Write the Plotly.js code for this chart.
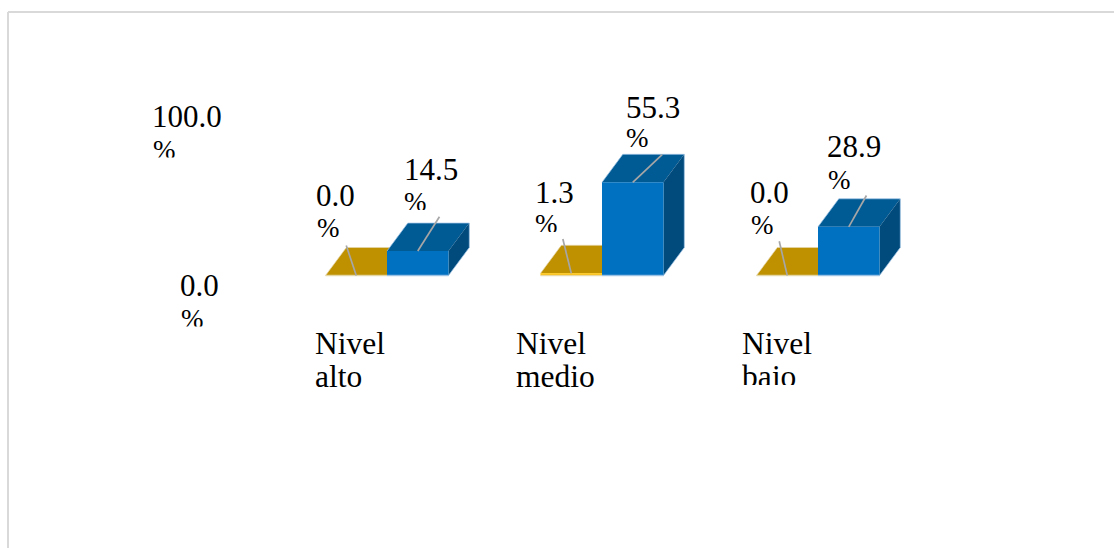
<!DOCTYPE html>
<html>
<head>
<meta charset="utf-8">
<script src="https://cdn.plot.ly/plotly-3.0.1.min.js"></script>
<style>html,body{margin:0;padding:0;background:#fff;overflow:hidden}</style>
</head>
<body>
<div id="chart" style="width:1114px;height:548px"></div>
<script>
// ---- data ----
const categories = ["Nivel alto", "Nivel medio", "Nivel bajo"];
const categoryLine1 = ["Nivel", "Nivel", "Nivel"];
const categoryLine2 = ["alto", "medio", "bajo"];
const goldValues = [0.0, 1.3, 0.0];
const blueValues = [14.5, 55.3, 28.9];
const axisTickValues = [0, 100];
const axisTickLabels = ["0.0", "100.0"];

// ---- scale of the plot: pixels per unit ----
const W = 1114, H = 548;
const pxPerCat = 215.5, pxPerPct = 1.685;
const zeroX = 387, zeroY = 275.5;
const xRange = [-zeroX / pxPerCat, (W - zeroX) / pxPerCat];
const yRange = [-(H - zeroY) / pxPerPct, zeroY / pxPerPct];
const barW = 61.5 / pxPerCat;
const depthX = 20.8 / pxPerCat, depthY = 28 / pxPerPct;
const catX = [0, 0.9977, 2];

const GOLD_FRONT = "#ffc000", GOLD_TOP = "#bf9000";
const BLUE_FRONT = "#0070c0", BLUE_TOP = "#005a94", BLUE_SIDE = "#004a7c";
const EDGE = "rgba(157,195,230,0.9)", GOLD_EDGE = "rgba(230,215,170,0.9)", LEADER = "#a6a6a6";
const FONT = "Liberation Serif";

function poly(xs, ys, color, z) {
  return {type: "scatter", mode: "lines", x: xs, y: ys, fill: "toself", fillcolor: color,
          line: {width: 0, color: color}, hoverinfo: "skip", zorder: z};
}
function edge(xs, ys, color, width, z) {
  return {type: "scatter", mode: "lines", x: xs, y: ys, line: {color, width}, hoverinfo: "skip", zorder: z};
}
const traces = [];
// gold top faces (behind everything)
catX.forEach((c, i) => {
  const v = goldValues[i], a = c - barW, b = c;
  traces.push(poly([a, b, b + depthX, a + depthX, a], [v, v, v + depthY, v + depthY, v], GOLD_TOP, 1));
  traces.push(edge([a, a + depthX, b + depthX], [v, v + depthY, v + depthY], GOLD_EDGE, 0.8, 1));
});
traces.push({type: "bar", x: catX, y: goldValues, width: barW, offset: -barW,
             marker: {color: GOLD_FRONT, line: {width: 0}}, hoverinfo: "skip", zorder: 2});
// blue depth faces
catX.forEach((c, i) => {
  const v = blueValues[i], a = c, b = c + barW;
  traces.push(poly([a, b, b + depthX, a + depthX, a], [v, v, v + depthY, v + depthY, v], BLUE_TOP, 3));
  traces.push(poly([b, b + depthX, b + depthX, b, b], [0, depthY, v + depthY, v, 0], BLUE_SIDE, 3));
  traces.push(edge([a, a + depthX, b + depthX, b + depthX, b],
                   [v, v + depthY, v + depthY, depthY, 0], EDGE, 0.8, 3));
});
traces.push({type: "bar", x: catX, y: blueValues, width: barW, offset: 0,
             marker: {color: BLUE_FRONT, line: {width: 0}}, hoverinfo: "skip", zorder: 4});
// base edge
catX.forEach((c, i) => {
  traces.push(edge([c - barW, c], [0, 0], GOLD_EDGE, 1.4, 5));
  traces.push(edge([c, c + barW], [0, 0], EDGE, 1.4, 5));
});
// leader lines: from bar centre to a pixel offset
const goldLeader = [[-10, 30], [-8.4, 34.3], [-8, 34.3]];
const blueLeader = [[21.7, 34.3], [29.4, 27.6], [17.7, 31.3]];
catX.forEach((c, i) => {
  [[c - barW / 2, goldValues[i], goldLeader[i]], [c + barW / 2, blueValues[i], blueLeader[i]]].forEach(([x, y, o]) => {
    traces.push(edge([x, x + o[0] / pxPerCat], [y, y + o[1] / pxPerPct], LEADER, 1.7, 6));
  });
});

// ---- text placement (pixel shifts from each bar's centre / top) ----
const annotations = [];
function line(text, xref, x, y, xs, ys, size, h) {
  const a = {text, xref, yref: "y", x, y, xshift: xs, yshift: ys, xanchor: "left", yanchor: "top",
             showarrow: false, align: "left", borderpad: 0, borderwidth: 0,
             font: {family: FONT, size, color: "#000"}};
  if (h) { a.height = h; a.valign = "top"; }
  annotations.push(a);
}
// [left shift, number top shift, percent top shift, percent visible height]
const goldPlace = [[-40, 97.5, 63, 26], [-36.5, 98.5, 64, 23], [-37, 100.5, 66, 24.5]];
const bluePlace = [[-14, 99.5, 64, 23], [-7, 92.5, 59, 27], [-21.5, 97.5, 62, 24]];
catX.forEach((c, i) => {
  [[c - barW / 2, goldValues[i], goldPlace[i]], [c + barW / 2, blueValues[i], bluePlace[i]]].forEach(([x, v, p]) => {
    line(v.toFixed(1), "x", x, v, p[0], p[1], 31);
    line("%", "x", x, v, p[0] + 0.5, p[2], 27, p[3]);
  });
});
// value-axis labels
const tickLeft = [180, 152];
axisTickValues.forEach((v, i) => {
  line(axisTickLabels[i], "paper", tickLeft[i] / W, v, 0, 8, 31);
  line("%", "paper", (tickLeft[i] + 1) / W, v, 0, -28, 27, 22.5);
});
// category labels
const catLeft = [-72, -86.5, -76];
catX.forEach((c, i) => {
  line(categoryLine1[i], "x", c, 0, catLeft[i], -50.5, 31.5);
  line(categoryLine2[i], "x", c, 0, catLeft[i], -83.5, 31.5, i === 2 ? 26 : 0);
});

const layout = {
  width: W, height: H, margin: {l: 0, r: 0, t: 0, b: 0}, showlegend: false,
  paper_bgcolor: "#fff", plot_bgcolor: "#fff", barmode: "overlay",
  xaxis: {visible: false, range: xRange, fixedrange: true},
  yaxis: {visible: false, range: yRange, fixedrange: true},
  annotations,
  shapes: [
    {type: "line", xref: "paper", yref: "paper", x0: 8 / W, x1: 8 / W, y0: 0, y1: 1 - 12 / H, line: {color: "#d9d9d9", width: 2}},
    {type: "line", xref: "paper", yref: "paper", x0: 8 / W, x1: 1, y0: 1 - 12 / H, y1: 1 - 12 / H, line: {color: "#d9d9d9", width: 2}}
  ]
};
Plotly.newPlot("chart", traces, layout, {displayModeBar: false, staticPlot: true});
</script>
</body>
</html>
